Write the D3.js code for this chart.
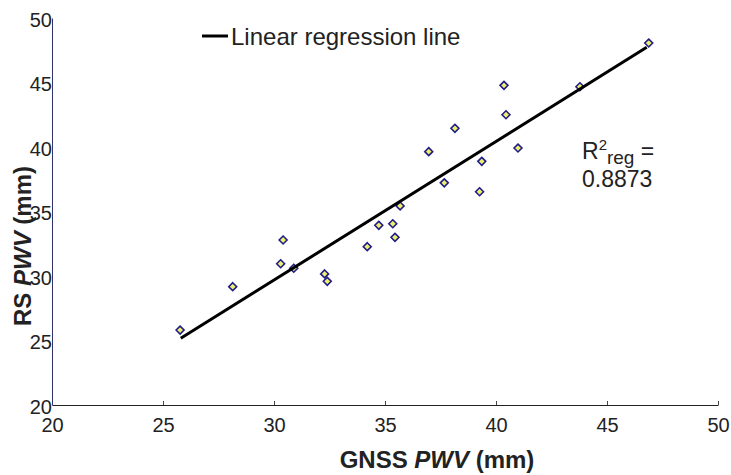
<!DOCTYPE html>
<html>
<head>
<meta charset="utf-8">
<script src="https://cdn.jsdelivr.net/npm/d3@7"></script>
<style>
  body { margin: 0; background: #fff; }
  svg { font-family: "Liberation Sans", Arial, sans-serif; }
</style>
</head>
<body>
<svg id="chart" width="731" height="475"></svg>
<script>
// data
var gnss = [25.77, 28.14, 30.30, 30.41, 30.89, 32.28, 32.40, 34.20, 34.72, 35.35, 35.45,
            35.68, 36.97, 37.67, 38.15, 39.26, 39.36, 40.36, 40.45, 40.99, 43.78, 46.88];
var rs   = [25.81, 29.17, 30.95, 32.79, 30.60, 30.16, 29.59, 32.27, 33.93, 34.05, 33.00,
            35.43, 39.64, 37.22, 41.45, 36.53, 38.89, 44.78, 42.50, 39.92, 44.67, 48.06];
var regX = [25.80, 46.79];   // regression line ends
var regY = [25.17, 47.73];
var ticks = [20, 25, 30, 35, 40, 45, 50];

var svg = d3.select("#chart");

var x = d3.scaleLinear().domain([20, 50]).range([52, 718]);
var y = d3.scaleLinear().domain([20, 50]).range([405, 18]);

// axes
var xAxis = svg.append("g")
  .attr("transform", "translate(0," + y(20) + ")")
  .call(d3.axisBottom(x).tickValues(ticks).tickSizeInner(-4).tickSizeOuter(0).tickPadding(13));
var yAxis = svg.append("g")
  .attr("transform", "translate(" + x(20) + ",0)")
  .call(d3.axisLeft(y).tickValues(ticks).tickSizeInner(0).tickSizeOuter(0).tickPadding(0));

xAxis.select(".domain").attr("stroke", "#222");
yAxis.select(".domain").attr("stroke", "#33336a");
xAxis.selectAll(".tick line").attr("stroke", "#444");
xAxis.selectAll("text").attr("font-size", 20).attr("fill", "#222").attr("dy", "0.71em");
yAxis.selectAll("text").attr("font-size", 20).attr("fill", "#222").attr("dy", "0.4em");

// points
var pts = gnss.map(function(d, i) { return [d, rs[i]]; });
svg.append("g").selectAll("path")
  .data(pts)
  .enter().append("path")
  .attr("transform", function(d) { return "translate(" + x(d[0]) + "," + y(d[1]) + ")"; })
  .attr("d", d3.symbol().type(d3.symbolDiamond2).size(40))
  .attr("fill", "#f0ee70")
  .attr("stroke", "#1e1e86")
  .attr("stroke-width", 1.6);

// regression line
svg.append("path")
  .datum(regX.map(function(d, i) { return [d, regY[i]]; }))
  .attr("d", d3.line().x(function(d) { return x(d[0]); }).y(function(d) { return y(d[1]); }))
  .attr("stroke", "#000")
  .attr("stroke-width", 3)
  .attr("fill", "none");

// legend
svg.append("line")
  .attr("x1", 202).attr("x2", 228).attr("y1", 36).attr("y2", 36)
  .attr("stroke", "#000").attr("stroke-width", 3);
svg.append("text")
  .attr("x", 231).attr("y", 45)
  .attr("font-size", 24).attr("fill", "#222")
  .text("Linear regression line");

// R squared
var r2 = svg.append("text").attr("x", 582).attr("y", 159).attr("font-size", 23).attr("fill", "#222");
r2.append("tspan").text("R");
r2.append("tspan").attr("font-size", 15).attr("dy", -9).text("2");
r2.append("tspan").attr("font-size", 19).attr("dy", 14).text("reg");
r2.append("tspan").attr("dy", -5).text(" =");
svg.append("text").attr("x", 582).attr("y", 187).attr("font-size", 23).attr("fill", "#222")
  .text("0.8873");

// axis titles
var xt = svg.append("text")
  .attr("x", 437).attr("y", 468)
  .attr("text-anchor", "middle")
  .attr("font-size", 24).attr("font-weight", "bold").attr("fill", "#222");
xt.append("tspan").text("GNSS ");
xt.append("tspan").attr("font-style", "italic").text("PWV");
xt.append("tspan").text(" (mm)");

var yt = svg.append("text")
  .attr("transform", "translate(31,246) rotate(-90)")
  .attr("text-anchor", "middle")
  .attr("font-size", 24).attr("font-weight", "bold").attr("fill", "#222");
yt.append("tspan").text("RS ");
yt.append("tspan").attr("font-style", "italic").text("PWV");
yt.append("tspan").text(" (mm)");
</script>
</body>
</html>
